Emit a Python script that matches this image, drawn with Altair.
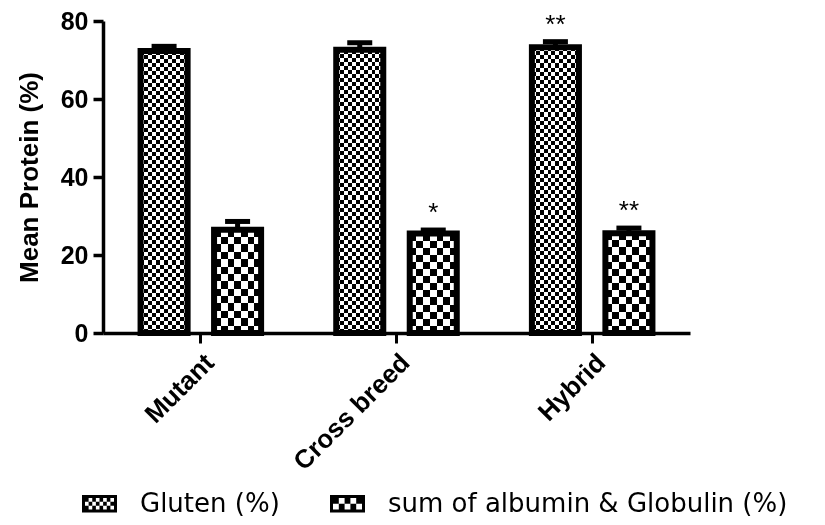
import altair as alt
import pandas as pd

# ---- data ----
categories = ["Mutant", "Cross breed", "Hybrid"]
series_names = ["Gluten (%)", "sum of albumin & Globulin (%)"]
gluten_mean = [72.3, 72.6, 73.3]
gluten_err = [1.2, 1.8, 1.4]
albumin_mean = [26.5, 25.5, 25.6]
albumin_err = [2.1, 0.9, 1.3]
gluten_sig = ["", "", "**"]
albumin_sig = ["", "*", "**"]

rows = []
for i, c in enumerate(categories):
    rows.append(dict(cat=c, series=series_names[0], mean=gluten_mean[i],
                     err=gluten_err[i], sig=gluten_sig[i]))
    rows.append(dict(cat=c, series=series_names[1], mean=albumin_mean[i],
                     err=albumin_err[i], sig=albumin_sig[i]))
df = pd.DataFrame(rows)

FONT = "Liberation Sans"


# ---- pattern styles (stripes combined by a difference blend -> checkerboard) ----
def stripes(n, along_y):
    stops = []
    for k in range(n):
        col = "black" if k % 2 == 0 else "white"
        stops.append({"offset": k / n, "color": col})
        stops.append({"offset": (k + 1) / n, "color": col})
    return {"gradient": "linear", "x1": 0, "y1": 0,
            "x2": 0 if along_y else 1, "y2": 1 if along_y else 0,
            "stops": stops}


def rect_path(x0, y0, x1, y1):
    return f"M{x0:.3f},{y0:.3f}H{x1:.3f}V{y1:.3f}H{x0:.3f}Z"


def legend_path(cols, rows_n, t=0.171):
    parts = [rect_path(-1, -0.5, 1, -0.5 + t), rect_path(-1, 0.5 - t, 1, 0.5),
             rect_path(-1, -0.5 + t, -1 + t, 0.5 - t), rect_path(1 - t, -0.5 + t, 1, 0.5 - t)]
    x0, x1 = -1 + t, 1 - t
    y0, y1 = -0.5 + t, 0.5 - t
    cw = (x1 - x0) / cols
    ch = (y1 - y0) / rows_n
    for r in range(rows_n):
        for c in range(cols):
            if (r + c) % 2 == 0:
                parts.append(rect_path(x0 + c * cw, y0 + r * ch,
                                       x0 + (c + 1) * cw, y0 + (r + 1) * ch))
    return "".join(parts)


fine_h, fine_v = stripes(70, True), stripes(12, False)
coarse_h, coarse_v = stripes(14, True), stripes(7, False)

x_enc = alt.X("cat:N", sort=categories, title=None,
              scale=alt.Scale(domain=categories, paddingInner=0, paddingOuter=0),
              axis=alt.Axis(labelAngle=-45, labelFont=FONT, labelFontSize=26,
                            labelFontWeight="bold", labelColor="black",
                            labelPadding=6, tickSize=10, tickWidth=3,
                            tickColor="black", domainColor="black",
                            domainWidth=3.5, grid=False))
xo_enc = alt.XOffset("series:N", sort=series_names,
                     scale=alt.Scale(domain=series_names, paddingInner=0.36,
                                     paddingOuter=0.511))
y_axis = alt.Axis(values=[0, 20, 40, 60, 80], labelFont=FONT, labelFontSize=25,
                  labelFontWeight="bold", labelColor="black", labelPadding=5,
                  tickSize=10, tickWidth=3.5, tickColor="black",
                  domainColor="black", domainWidth=3.5, grid=False,
                  titleFont=FONT, titleFontSize=26, titleFontWeight="bold",
                  titleColor="black", titleX=-74, titleY=156,
                  titleBaseline="middle")
y_scale = alt.Scale(domain=[0, 80], nice=False, zero=True)
TITLE = "Mean Protein (%)"


def y_of(field):
    return alt.Y(f"{field}:Q", scale=y_scale, axis=y_axis, title=TITLE)


base = alt.Chart(df).transform_calculate(top="datum.mean + datum.err")

err_rule = base.mark_rule(color="black", strokeWidth=5, opacity=1).encode(
    x=x_enc, xOffset=xo_enc, y=y_of("mean"), y2="top:Q")
err_cap = base.mark_tick(color="black", thickness=5, size=25, opacity=1).encode(
    x=x_enc, xOffset=xo_enc, y=y_of("top"))

layers = [err_rule, err_cap]
for name, ph, pv in [(series_names[0], fine_h, fine_v),
                     (series_names[1], coarse_h, coarse_v)]:
    sub = base.transform_filter(alt.datum.series == name)
    layers.append(sub.mark_bar(fill=ph, strokeWidth=0).encode(
        x=x_enc, xOffset=xo_enc, y=y_of("mean")))
    layers.append(sub.mark_bar(fill=pv, strokeWidth=0, blend="difference").encode(
        x=x_enc, xOffset=xo_enc, y=y_of("mean")))

outline = base.mark_bar(fillOpacity=0, stroke="black", strokeWidth=6).encode(
    x=x_enc, xOffset=xo_enc, y=y_of("mean"))
stars = base.mark_text(baseline="alphabetic", dy=-9, fontSize=26, font=FONT,
                       color="black").encode(
    x=x_enc, xOffset=xo_enc, y=y_of("top"), text="sig:N")

legend_pts = base.mark_point(filled=True, opacity=0, color="black").encode(
    x=x_enc, xOffset=xo_enc, y=y_of("mean"),
    shape=alt.Shape("series:N", sort=series_names,
                    scale=alt.Scale(domain=series_names,
                                    range=[legend_path(8, 3), legend_path(5, 2)]),
                    legend=alt.Legend(title=None, orient="none", legendX=-21,
                                      legendY=465, direction="horizontal",
                                      columns=2, symbolSize=1225,
                                      symbolFillColor="black",
                                      symbolStrokeWidth=0, symbolOpacity=1,
                                      labelFont="DejaVu Sans", labelFontSize=26,
                                      labelColor="black", labelOffset=23,
                                      columnPadding=50, padding=0,
                                      labelLimit=600)))

layers += [outline, stars, legend_pts]

chart = alt.layer(*layers).properties(
    width=587, height=312,
    autosize=alt.AutoSizeParams(type="none"),
    padding={"left": 95, "top": 13, "right": 127, "bottom": 184},
    background="white",
).configure_view(stroke=None)

chart.save("out.html", embed_options={"renderer": "svg", "actions": False})
